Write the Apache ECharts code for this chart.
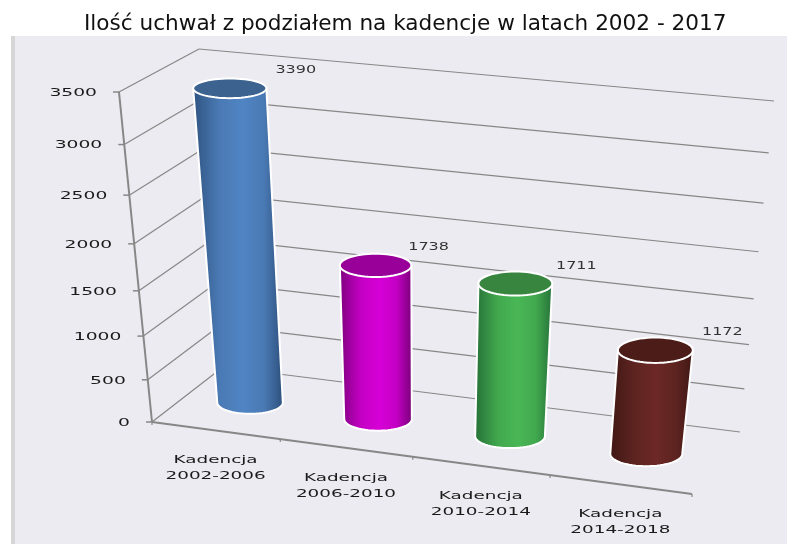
<!DOCTYPE html>
<html>
<head>
<meta charset="utf-8">
<style>html,body{margin:0;padding:0;background:#fff}#c{width:787px;height:544px}</style>
<script src="https://cdn.jsdelivr.net/npm/echarts@6/dist/echarts.min.js"></script>
</head>
<body>
<div id="c"></div>
<script>
var titleText = 'Ilość uchwał z podziałem na kadencje w latach 2002 - 2017';
var categories = ['Kadencja\n2002-2006', 'Kadencja\n2006-2010', 'Kadencja\n2010-2014', 'Kadencja\n2014-2018'];
var values = [3390, 1738, 1711, 1172];
var tickValues = [0, 500, 1000, 1500, 2000, 2500, 3000, 3500];
var bodyColors = [
  ['#2f5380', '#4a7ab5', '#5084c3', '#4a7ab5', '#2c4e7a'],
  ['#7c007c', '#c400c4', '#d600d6', '#c400c4', '#760076'],
  ['#256f37', '#41a84e', '#49b755', '#41a84e', '#256f37'],
  ['#3f1714', '#5e2420', '#6c2826', '#5e2420', '#3f1714']
];
var capColors = ['#3c628f', '#99009a', '#37853f', '#4c1c18'];
// label nudges relative to each cylinder's top (layout only)
var labelDx = [66, 53, 61, 67];

// perspective box calibration: screen corners of the front and back faces
// order: (u=0,v=0), (u=1,v=0), (u=1,v=1), (u=0,v=1)
var frontFace = [[152, 422], [692, 494], [736, 148], [119, 92]];
var backFace = [[223, 367], [740, 432], [774, 101], [199, 49]];
function squareToQuad(q) {
  var x0 = q[0][0], y0 = q[0][1], x1 = q[1][0], y1 = q[1][1], x2 = q[2][0], y2 = q[2][1], x3 = q[3][0], y3 = q[3][1];
  var dx1 = x1 - x2, dx2 = x3 - x2, sx = x0 - x1 + x2 - x3;
  var dy1 = y1 - y2, dy2 = y3 - y2, sy = y0 - y1 + y2 - y3;
  var d = dx1 * dy2 - dx2 * dy1;
  var g = (sx * dy2 - dx2 * sy) / d, h = (dx1 * sy - sx * dy1) / d;
  var a = x1 - x0 + g * x1, b = x3 - x0 + h * x3, c = x0;
  var e = y1 - y0 + g * y1, f = y3 - y0 + h * y3, k = y0;
  return function (u, v) {
    var w = g * u + h * v + 1;
    return [(a * u + b * v + c) / w, (e * u + f * v + k) / w];
  };
}
var hFront = squareToQuad(frontFace), hBack = squareToQuad(backFace);
function project(u, v, z) {
  var p = hFront(u, v), q = hBack(u, v);
  return [p[0] + (q[0] - p[0]) * z, p[1] + (q[1] - p[1]) * z];
}
// convert through the (hidden) cartesian scales to box coordinates
function toBox(params, pt) {
  var cs = params.coordSys;
  return [(pt[0] - cs.x) / cs.width, (cs.y + cs.height - pt[1]) / cs.height];
}
var FONT = '11px "DejaVu Sans"';
var GRID = '#878787';

function renderFrame(params, api) {
  var kids = [], i;
  function seg(a, b, w, col) {
    kids.push({type: 'line', shape: {x1: a[0], y1: a[1], x2: b[0], y2: b[1]}, style: {stroke: col || GRID, lineWidth: w || 1.2}, silent: true});
  }
  tickValues.forEach(function (t) {
    var v = toBox(params, api.coord([0, t]))[1];
    var f = project(0, v, 0), b = project(0, v, 1), r = project(1, v, 1);
    seg(f, b); seg(b, r);
    seg([f[0] - 6, f[1]], f, 1.5);
    kids.push({type: 'text', x: f[0] - 22, y: f[1] + 1, scaleX: 1.7,
      style: {text: String(t), font: FONT, fill: '#1a1a1a', textAlign: 'right', textVerticalAlign: 'middle'}, silent: true});
  });
  var top = toBox(params, api.coord([0, tickValues[tickValues.length - 1]]))[1];
  seg(project(0, 0, 0), project(0, top, 0), 2);
  seg(project(0, 0, 0), project(1, 0, 0), 2);
  for (i = 0; i <= categories.length; i++) {
    var p = project(i / categories.length, 0, 0);
    seg(p, [p[0], p[1] + 3], 1.2);
  }
  categories.forEach(function (name, idx) {
    var u = toBox(params, api.coord([idx, 0]))[0];
    var q = project(u, 0, 0);
    kids.push({type: 'text', x: q[0], y: q[1] + 22, scaleX: 1.67,
      style: {text: name, font: FONT, lineHeight: 16, fill: '#1a1a1a', textAlign: 'center', textVerticalAlign: 'top'}, silent: true});
  });
  return {type: 'group', children: kids};
}

function ell(c, rx, ry, a0, a1, n) {
  var pts = [], k;
  for (k = 0; k <= n; k++) {
    var a = a0 + (a1 - a0) * k / n;
    pts.push([c[0] + rx * Math.cos(a), c[1] + ry * Math.sin(a)]);
  }
  return pts;
}
function renderCyl(params, api) {
  var i = api.value(0), val = api.value(1);
  var bt = toBox(params, api.coord([i, val]));
  var u = bt[0], vt = bt[1], ru = 0.25 * 0.5 * 0.52, rz = 0.2, zc = 0.5;
  var ct = project(u, vt, zc), cb = project(u, 0, zc);
  var rxt = Math.abs(project(u + ru, vt, zc)[0] - project(u - ru, vt, zc)[0]) / 2;
  var ryt = Math.abs(project(u, vt, zc + rz)[1] - project(u, vt, zc - rz)[1]) / 2 + 1;
  var rxb = Math.abs(project(u + ru, 0, zc)[0] - project(u - ru, 0, zc)[0]) / 2;
  var ryb = Math.abs(project(u, 0, zc + rz)[1] - project(u, 0, zc - rz)[1]) / 2;
  var stops = bodyColors[i].map(function (c, k) { return {offset: [0, 0.3, 0.55, 0.78, 1][k], color: c}; });
  var body = [[ct[0] - rxt, ct[1]]].concat(ell(cb, rxb, ryb, Math.PI, 0, 32), [[ct[0] + rxt, ct[1]]]);
  return {type: 'group', children: [
    {type: 'polygon', shape: {points: body},
      style: {fill: {type: 'linear', x: 0, y: 0, x2: 1, y2: 0, colorStops: stops}, stroke: '#fff', lineWidth: 2}},
    {type: 'polygon', shape: {points: ell(ct, rxt, ryt, 0, Math.PI * 2, 60)},
      style: {fill: capColors[i], stroke: '#fff', lineWidth: 2}},
    {type: 'text', x: ct[0] + labelDx[i], y: ct[1] - 17.5, scaleX: 1.6,
      style: {text: String(values[i]), font: '10px "DejaVu Sans"', fill: '#333', textAlign: 'center', textVerticalAlign: 'middle'}, silent: true}
  ]};
}

var chart = echarts.init(document.getElementById('c'), null, {renderer: 'canvas'});
chart.setOption({
  animation: false,
  backgroundColor: '#ffffff',
  title: {text: titleText, left: 84, top: 13, padding: 0,
    textStyle: {fontFamily: '"DejaVu Sans"', fontWeight: 'normal', fontSize: 21.6, color: '#111'}},
  graphic: [
    {type: 'rect', z: -10, shape: {x: 11, y: 36, width: 776, height: 508}, style: {fill: '#edebf2'}, silent: true},
    {type: 'rect', z: -9, shape: {x: 11, y: 36, width: 4, height: 508}, style: {fill: '#d6d6d6'}, silent: true}
  ],
  grid: {left: 100, right: 100, top: 100, bottom: 100},
  xAxis: {type: 'category', data: categories, show: false},
  yAxis: {type: 'value', min: 0, max: 3500, interval: 500, show: false},
  tooltip: {show: false},
  series: [
    {type: 'custom', renderItem: renderFrame, data: [[0, 0]], z: 1, clip: false, silent: true},
    {type: 'custom', renderItem: renderCyl, encode: {x: 0, y: 1}, z: 2, clip: false,
      data: values.map(function (v, i) { return [i, v]; })}
  ]
});
</script>
</body>
</html>
